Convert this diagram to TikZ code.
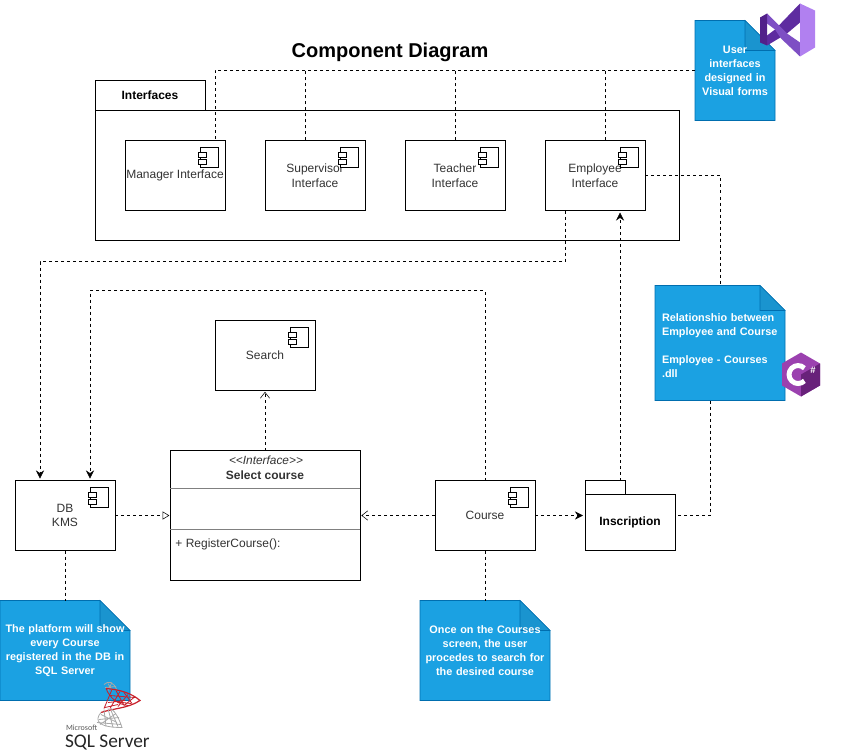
\documentclass[tikz,border=0pt]{standalone}
\usepackage{fontspec}
\setmainfont{Liberation Sans}
\newfontfamily\logofont{Carlito}
\usepackage{xcolor}
\usepackage{tikz}
\usetikzlibrary{arrows.meta,positioning,calc,backgrounds}

\definecolor{notefill}{HTML}{1BA1E2}
\definecolor{noteline}{HTML}{006EAF}
\definecolor{foldfill}{HTML}{1A94CF}
\definecolor{labelgray}{HTML}{333333}
\definecolor{sqlred}{HTML}{C8202A}
\definecolor{sqlgray}{HTML}{A8A8A8}

% outline of a note, behind its text
\newcommand{\notefold}[2]{%
    \begin{pgfonlayer}{background}
        \path[draw=noteline, fill=notefill] (#1.north west) -- ($(#1.north east)+(-#2,0)$) -- ($(#1.north east)+(0,#2)$) -- (#1.south east) -- (#1.south west) -- cycle;
        \path[draw=noteline, fill=foldfill] ($(#1.north east)+(-#2,0)$) -- ($(#1.north east)+(0,#2)$) -- ($(#1.north east)+(-#2,#2)$) -- cycle;
    \end{pgfonlayer}}
% small component mark in the corner of a box
\newcommand{\compicon}[1]{%
    \begin{scope}[shift={(#1.north east)}]
        \draw[fill=white] (-25,7) rectangle (-7,27);
        \draw[fill=white] (-27,12) rectangle (-19,17);
        \draw[fill=white] (-27,19) rectangle (-19,24);
    \end{scope}}

\begin{document}
\begin{tikzpicture}[
    x=0.75pt, y=-0.75pt,
    line width=0.75pt,
    every node/.style={outer sep=0pt},
    comp/.style={rectangle, draw, fill=white, minimum width=75pt, minimum height=52.5pt, inner sep=0pt, text=labelgray, align=center, font=\fontsize{9}{10.9}\selectfont},
    pkg/.style={rectangle, draw, fill=white, inner sep=0pt, align=center, font=\fontsize{9}{10.9}\bfseries\selectfont},
    notebox/.style={rectangle, inner sep=0pt, text=white, align=center, font=\fontsize{8.15}{10.5}\bfseries\selectfont},
    link/.style={dashed, dash pattern=on 2.25pt off 2.25pt},
    arrow/.style={link, shorten >=1.5pt, -{Stealth[length=6pt,width=6pt]}},
    openarrow/.style={link, shorten >=1pt, -{Straight Barb[length=4.5pt,width=7pt]}},
    hollowarrow/.style={link, shorten >=0.5pt, -{Triangle[open,length=5pt,width=6pt]}}
]
    \useasboundingbox (0,-0.5) rectangle (841,751.5);

    \node[font=\fontsize{15}{18}\bfseries\selectfont] (title) at (390,52) {Component Diagram};

    % Interfaces package
    \node[pkg, minimum width=438pt, minimum height=97.5pt] (interfaces) at (387,175) {};
    \node[pkg, minimum width=82.5pt, minimum height=22.5pt, anchor=south west] (interfacestab) at (interfaces.north west) {Interfaces};

    \node[comp] (manager) at (175,175) {Manager Interface};
    \node[comp, right=30pt of manager] (supervisor) {Supervisor\\Interface};
    \node[comp, right=30pt of supervisor] (teacher) {Teacher\\Interface};
    \node[comp, right=30pt of teacher] (employee) {Employee\\Interface};

    % Lower row
    \node[comp] (search) at (265,355) {Search};
    \node[comp] (db) at (65,515) {DB\\KMS};
    \node[comp] (course) at (485,515) {Course};
    \node[pkg, minimum width=67.5pt, minimum height=42pt] (inscription) at (630,522) {Inscription};
    \node[pkg, minimum width=30pt, minimum height=10.5pt, anchor=south west] (inscriptiontab) at (inscription.north west) {};

    % Class box
    \node[rectangle, draw, fill=white, minimum width=142.5pt, minimum height=97.5pt] (select) at (265,515) {};
    \node[font=\fontsize{8.9}{10}\itshape\selectfont, text=labelgray] (stereotype) at (266,460) {{<}{<}Interface{>}{>}};
    \node[font=\fontsize{9}{11}\bfseries\selectfont, text=labelgray] (selectname) at (265,475) {Select course};
    \node[font=\fontsize{9}{11}\selectfont, text=labelgray, anchor=west] (register) at (171,544) {+ RegisterCourse():};
    \coordinate (sepa) at (170,488);
    \coordinate (sepb) at (170,529);
    \draw[gray] (sepa) -- (sepa -| select.east);
    \draw[gray] (sepb) -- (sepb -| select.east);

    \compicon{manager}
    \compicon{supervisor}
    \compicon{teacher}
    \compicon{employee}
    \compicon{search}
    \compicon{db}
    \compicon{course}

    % Notes
    \node[notebox, minimum width=60pt, minimum height=75pt, text width=60pt] (usernote) at (735,70) {User\\interfaces\\designed in\\Visual forms};
    \node[notebox, minimum width=97.5pt, minimum height=86.25pt, text width=87pt, align=left] (relnote) at (720,342.5) {\mbox{}\\Relationshio between\\Employee and Course\\\mbox{}\\Employee - Courses\\.dll};
    \node[notebox, minimum width=97.5pt, minimum height=75pt, text width=97.5pt] (platformnote) at (65,650) {The platform will show\\every Course\\registered in the DB in\\SQL Server};
    \node[notebox, minimum width=97.5pt, minimum height=75pt, text width=97.5pt] (oncenote) at (485,650) {Once on the Courses\\screen, the user\\procedes to search for\\the desired course};
    \notefold{usernote}{30}
    \notefold{relnote}{25}
    \notefold{platformnote}{30}
    \notefold{oncenote}{30}

    % Note connections
    \coordinate (managertop) at ($(manager.north)+(40,0)$);
    \coordinate (supervisortop) at ($(supervisor.north)+(-10,0)$);
    \coordinate (employeetop) at ($(employee.north)+(10,0)$);
    \draw[link] (usernote.west) -| (managertop);
    \draw[link] (supervisortop) -- (supervisortop |- usernote.west);
    \draw[link] (teacher.north) -- (teacher.north |- usernote.west);
    \draw[link] (employeetop) -- (employeetop |- usernote.west);
    \draw[link] (employee.east |- 0,175) -| (relnote.north);
    \coordinate (relout) at ($(relnote.south)+(-10,0)$);
    \coordinate (inscriptionout) at (inscription.east |- course.east);
    \draw[link] (relout) |- (inscriptionout);
    \draw[link] (db.south) -- (db.south |- platformnote.north);
    \draw[link] (course.south) -- (oncenote.north);

    % Dependencies
    \coordinate (employeeout) at ($(employee.south)+(-30,0)$);
    \coordinate (employeerail) at (300,261);
    \coordinate (dbleft) at ($(db.north)+(-25,0)$);
    \coordinate (dbright) at ($(db.north)+(25,0)$);
    \coordinate (courserail) at (300,290);
    \coordinate (employeein) at ($(employee.south)+(25,0)$);
    \draw[arrow] (employeeout) |- (employeerail) -| (dbleft);
    \draw[arrow] (course.north) |- (courserail) -| (dbright);
    \draw[arrow] (employeein |- inscriptiontab.north) -- (employeein);
    \draw[openarrow] (select.north) -- (search.south);
    \draw[hollowarrow] (db.east) -- (db.east -| select.west);
    \draw[openarrow] (course.west) -- (course.west -| select.east);
    \draw[arrow] (course.east) -- (inscription.west |- course.east);

    % Visual Studio mark
    \fill[color={rgb,255:red,94;green,44;blue,160}] (800,3) -- (800,22) -- (787,33) -- (767,45) -- (767,35) -- (775,29) -- cycle;
    \fill[color={rgb,255:red,126;green,79;blue,196}] (767,13) -- (787,33) -- (800,42) -- (800,56) -- (781,38) -- (775,29) -- (767,23) -- cycle;
    \fill[color={rgb,255:red,82;green,33;blue,138}] (760,17) -- (767,13) -- (767,45) -- (760,42) -- cycle;
    \fill[color={rgb,255:red,177;green,128;blue,240}] (800,3) -- (815,10) -- (815,47) -- (800,56) -- cycle;

    % C# mark
    \fill[color={rgb,255:red,155;green,65;blue,175}] (801,352) -- (820,363) -- (820,385) -- (801,396) -- (782,385) -- (782,363) -- cycle;
    \fill[color={rgb,255:red,104;green,33;blue,122}] (801,374) -- (820,363) -- (820,385) -- (801,396) -- cycle;
    \draw[white, line width=3.7pt] (804.4,380.4) arc[start angle=45, end angle=315, radius=9];
    \node[text=white, font=\fontsize{7}{8}\bfseries\selectfont, inner sep=0pt] (sharp) at (813,370) {\#};

    % SQL Server mark
    \draw[sqlgray, line width=0.6pt] (104,684) .. controls (108,680) and (114,681) .. (117,690) (108,683) -- (112,690) (112,682) -- (108,690) (105,687) -- (116,686);
    \draw[sqlred, line width=0.9pt] (106,688) .. controls (120,689) and (132,693) .. (140,700) .. controls (128,708) and (112,708) .. (101,712);
    \draw[sqlred, line width=0.6pt] (106,688) .. controls (110,698) and (118,704) .. (128,705) (112,689) -- (104,708) (120,691) -- (110,708) (128,694) -- (118,706) (134,697) -- (124,705) (110,695) -- (135,697) (114,701) -- (131,703) (116,690) -- (124,705) (124,692) -- (132,703) (108,702) -- (125,700) (105,707) -- (118,704);
    \draw[sqlgray, line width=0.6pt] (101,712) .. controls (94,720) and (98,727) .. (122,727) .. controls (119,718) and (116,712) .. (111,708);
    \draw[sqlgray, line width=0.6pt] (104,709) -- (106,726) (108,708) -- (113,727) (111,710) -- (118,726) (99,719) -- (119,717) (116,713) -- (100,724) (101,714) -- (117,722) (97,722) -- (121,724);
    \node[font=\logofont\fontsize{6}{7}\selectfont, color=gray!70!black, inner sep=0pt, anchor=west] (microsoft) at (66,727.5) {Microsoft};
    \node[font=\logofont\fontsize{14.5}{16}\selectfont, inner sep=0pt, anchor=west, color=black!85] (sqlserver) at (65,742) {SQL Server};
\end{tikzpicture}
\end{document}
